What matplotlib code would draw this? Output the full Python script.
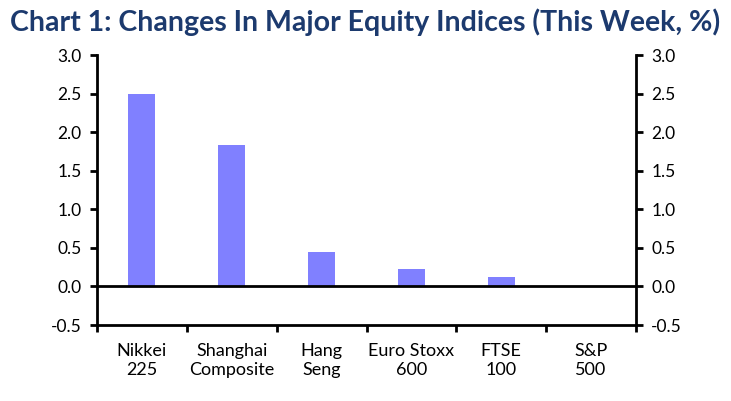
import matplotlib
matplotlib.use("Agg")
import matplotlib.pyplot as plt
import numpy as np

categories = ["Nikkei\n225", "Shanghai\nComposite", "Hang\nSeng", "Euro Stoxx\n600", "FTSE\n100", "S&P\n500"]
values = [2.49, 1.83, 0.44, 0.23, 0.12, 0.01]
yticks = [-0.5, 0.0, 0.5, 1.0, 1.5, 2.0, 2.5, 3.0]

plt.rcParams['font.family'] = ['Lato', 'DejaVu Sans']

fig = plt.figure(figsize=(7.31, 4.01), dpi=100)
ax = fig.add_axes([97/731, 1-325/401, (636-97)/731, (325-55)/401])

x = np.arange(len(categories))
ax.bar(x, values, width=0.3, color="#8080FF", zorder=2)
ax.axhline(0, color="black", lw=2, zorder=3)

ax.set_xlim(-0.5, len(categories)-0.5)
ax.set_ylim(-0.5, 3.0)
ax.set_yticks(yticks)
ax.set_yticklabels([f"{v:.1f}" for v in yticks], fontsize=12.5)
ax.set_xticks(np.arange(-0.5, len(categories)+0.5, 1.0))
ax.set_xticklabels([])
ax.set_xticks(x, minor=True)
ax.set_xticklabels(categories, minor=True, fontsize=13, linespacing=1.25)
ax.tick_params(axis='x', which='minor', length=0, pad=13)
ax.tick_params(axis='x', which='major', direction='out', length=5, width=2)
ax.tick_params(axis='y', direction='out', length=5, width=2, left=True, right=True,
               labelleft=True, labelright=True, pad=6)

for s in ['left', 'right', 'bottom']:
    ax.spines[s].set_linewidth(2)
ax.spines['top'].set_visible(False)

fig.text(0.5, 0.978, "Chart 1: Changes In Major Equity Indices (This Week, %)",
         ha='center', va='top', fontsize=20.5, fontweight='bold', color="#1C3A6E")

fig.savefig("out.png", dpi=100)
